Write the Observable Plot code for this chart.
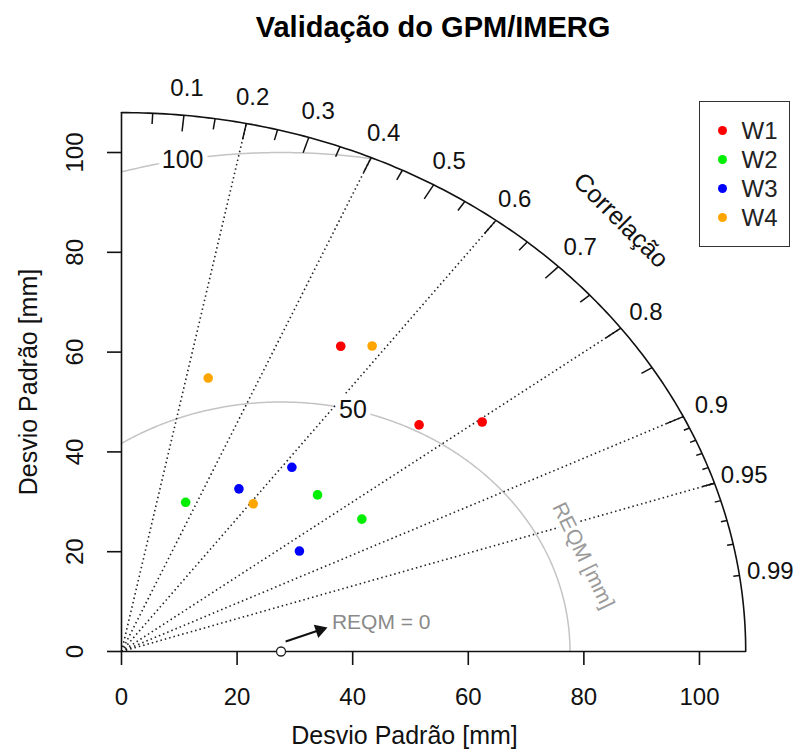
<!DOCTYPE html>
<html><head><meta charset="utf-8">
<script src="https://cdn.jsdelivr.net/npm/d3@7"></script>
<script src="https://cdn.jsdelivr.net/npm/@observablehq/plot@0.6"></script>
<style>
body{margin:0;background:#fff;font-family:"Liberation Sans",Arial,sans-serif;overflow:hidden}
#wrap{position:relative;width:799px;height:751px;background:#fff}
#title{position:absolute;left:133px;top:12.5px;width:600px;font-weight:bold;font-size:29px;line-height:29px;text-align:center;white-space:nowrap;color:#000}
#chart{position:absolute;left:0;top:55px}
#legend{position:absolute;left:699px;top:101px;width:91px;height:146px;border:1.5px solid #333;box-sizing:border-box;background:#fff}
.item{position:absolute;left:0;height:28px;display:flex;align-items:center;font-size:24px;color:#222}
.item .dot{width:9px;height:9px;border-radius:50%;margin-left:18px;margin-right:14.5px}
</style></head>
<body>
<div id="wrap">
  <div id="title">Validação do GPM/IMERG</div>
  <div id="chart"></div>
  <div id="legend"></div>
</div>
<script>
// ---------------- data ----------------
const series = ["W1", "W2", "W3", "W4"];
const seriesColors = ["#ff0000", "#00ee00", "#0000ff", "#ffa500"];
// standard deviation [mm] and correlation of each point, per series
const w1Sd  = [71.98, 68.65, 77.52];
const w1Cor = [0.527, 0.750, 0.805];
const w2Sd  = [31.89, 46.21, 49.33];
const w2Cor = [0.348, 0.734, 0.843];
const w3Sd  = [47.24, 38.41, 36.78];
const w3Cor = [0.624, 0.529, 0.837];
const w4Sd  = [75.03, 56.82, 37.36];
const w4Cor = [0.578, 0.264, 0.610];
const refSd = 27.6;              // observed standard deviation
const maxSd = 108;               // outer radius
const gammaLevels = [50, 100];   // REQM contours
const corrLines = [0.2, 0.4, 0.6, 0.8, 0.9, 0.95];
const corrLabels = [0.1, 0.2, 0.3, 0.4, 0.5, 0.6, 0.7, 0.8, 0.9, 0.95, 0.99];
const xTicks = [0, 20, 40, 60, 80, 100];
const yTicks = [0, 20, 40, 60, 80, 100];
const axisTitle = "Desvio Padrão [mm]";
const corrTitle = "Correlação";
const gammaTitle = "REQM [mm]";
const zeroLabel = "REQM = 0";

// ---------------- derived tables ----------------
const sdArr = [w1Sd, w2Sd, w3Sd, w4Sd];
const corArr = [w1Cor, w2Cor, w3Cor, w4Cor];
const pts = series.flatMap((s, i) => sdArr[i].map((sd, j) => {
  const c = corArr[i][j];
  return {s, x: sd * c, y: sd * Math.sqrt(1 - c * c)};
}));

const rad = Math.PI / 180;
const gammaArcs = gammaLevels.flatMap(g =>
  d3.range(0, 180.001, 0.25).map(a => ({g, x: refSd + g * Math.cos(a * rad), y: g * Math.sin(a * rad)}))
    .filter(p => p.x >= 0 && p.x * p.x + p.y * p.y <= maxSd * maxSd)
);
const gammaLabelAngles = [75.6, 99.8];
const gammaLab = gammaLevels.map((g, i) => ({g, a: gammaLabelAngles[i]}));

const outerArc = d3.range(0, 90.001, 0.5).map(a => ({x: maxSd * Math.cos(a * rad), y: maxSd * Math.sin(a * rad)}));
const bigT = d3.range(1, 10).map(i => i / 10);
const medT = d3.range(0, 10).map(i => 0.05 + i / 10);
const smlT = d3.range(91, 100).map(i => i / 100);
const arcTicks = [
  ...bigT.map(c => ({c, f: 0.97})),
  ...medT.map(c => ({c, f: 0.98})),
  ...smlT.map(c => ({c, f: 0.99}))
];
const sinOf = c => Math.sqrt(1 - c * c);

// annotation anchors (data units)
const arrowTail = {x: refSd + 0.8, y: 2.0};
const arrowHead = {x: 35.6, y: 4.8};
const zeroLabelAt = {x: 36.4, y: 5.9};
const gammaTitleAt = {x: 79.9, y: 19.2};

// layout
const W = 799, H = 696;
const mL = 121, mR = 53.8, mT = 57.1, mB = 100;
const kx = (W - mL - mR) / maxSd, ky = (H - mT - mB) / maxSd;
const dirAngle = Math.atan2((arrowHead.y - arrowTail.y) * ky, (arrowHead.x - arrowTail.x) * kx); // screen, up positive
const triBack = 7.8; // px from tip to centroid
const triC = {x: arrowHead.x - triBack * Math.cos(dirAngle) / kx, y: arrowHead.y - triBack * Math.sin(dirAngle) / ky};

const FONT = '"Liberation Sans", Arial, sans-serif';

const chart = Plot.plot({
  width: W, height: H,
  marginLeft: mL, marginRight: mR, marginTop: mT, marginBottom: mB,
  x: {domain: [0, maxSd], label: null},
  y: {domain: [0, maxSd], label: null},
  color: {domain: series, range: seriesColors},
  style: {fontFamily: FONT, fontSize: "24px", background: "white", overflow: "visible", color: "#111"},
  marks: [
    // REQM contours
    Plot.line(gammaArcs, {x: "x", y: "y", z: "g", stroke: "#c4c4c4", strokeWidth: 1.5}),
    // correlation radial lines
    Plot.link(corrLines, {x1: () => 0, y1: () => 0, x2: c => maxSd * c, y2: c => maxSd * sinOf(c),
      stroke: "#222", strokeWidth: 1.6, strokeDasharray: "1.5,3"}),
    // REQM contour labels (boxed)
    Plot.text(gammaLab, {x: d => refSd + d.g * Math.cos(d.a * rad), y: d => d.g * Math.sin(d.a * rad),
      text: d => String(d.g), fontSize: 25, fill: "#111", stroke: "white", strokeWidth: 10, paintOrder: "stroke"}),
    Plot.text([gammaTitle], {x: () => gammaTitleAt.x, y: () => gammaTitleAt.y, text: d => d, rotate: 64,
      fontSize: 21, fill: "#9a9a9a", stroke: "white", strokeWidth: 6, paintOrder: "stroke"}),
    // outer arc and axes lines
    Plot.line(outerArc, {x: "x", y: "y", stroke: "#111", strokeWidth: 1.6}),
    Plot.ruleX([0], {y1: 0, y2: maxSd, stroke: "#111", strokeWidth: 1.6}),
    Plot.ruleY([0], {x1: 0, x2: maxSd, stroke: "#111", strokeWidth: 1.6}),
    // arc ticks
    Plot.link(arcTicks, {x1: d => maxSd * d.c, y1: d => maxSd * sinOf(d.c), x2: d => d.f * maxSd * d.c, y2: d => d.f * maxSd * sinOf(d.c),
      stroke: "#111", strokeWidth: 1.5}),
    // axis ticks
    Plot.axisX(xTicks, {tickSize: 14, tickFormat: () => "", label: null, strokeWidth: 1.6}),
    Plot.axisY(yTicks, {tickSize: 14, tickFormat: () => "", label: null, strokeWidth: 1.6}),
    // tick labels
    Plot.text(xTicks, {x: d => d, frameAnchor: "bottom", dy: 46, text: d => String(d), fontSize: 24, fill: "#111",
      textAnchor: "middle", lineAnchor: "middle"}),
    Plot.text(yTicks, {y: d => d, frameAnchor: "left", dx: -46, rotate: -90, text: d => String(d), fontSize: 24, fill: "#111",
      textAnchor: "middle", lineAnchor: "middle"}),
    // axis titles
    Plot.text([axisTitle], {frameAnchor: "bottom-left", dx: 283, dy: 84, text: d => d, fontSize: 25, fill: "#111",
      textAnchor: "middle", lineAnchor: "middle"}),
    Plot.text([axisTitle], {frameAnchor: "left", dx: -93, rotate: -90, text: d => d, fontSize: 25, fill: "#111",
      textAnchor: "middle", lineAnchor: "middle"}),
    // correlation labels
    Plot.text(corrLabels, {x: c => 1.05 * maxSd * c, y: c => 1.05 * maxSd * sinOf(c), text: c => String(c), fontSize: 24, fill: "#111"}),
    Plot.text([corrTitle], {x: () => 0.8 * maxSd, y: () => 0.8 * maxSd, text: d => d, rotate: 45, fontSize: 25, fill: "#111"}),
    // reference point + annotation
    Plot.dot([refSd], {x: d => d, y: () => 0, r: 4.5, stroke: "#222", fill: "white", strokeWidth: 1.3}),
    Plot.link([0], {x1: () => arrowTail.x, y1: () => arrowTail.y, x2: () => triC.x, y2: () => triC.y, stroke: "#111", strokeWidth: 2}),
    Plot.dot([0], {x: () => triC.x, y: () => triC.y, symbol: "triangle", r: 5.2, fill: "#111", stroke: "none",
      rotate: 90 - dirAngle / rad}),
    Plot.text([zeroLabel], {x: () => zeroLabelAt.x, y: () => zeroLabelAt.y, text: d => d, textAnchor: "start", fontSize: 21, fill: "#8a8a8a"}),
    // data points
    Plot.dot(pts, {x: "x", y: "y", fill: "s", r: 4.8, stroke: "none"})
  ]
});
document.getElementById("chart").appendChild(chart);

// legend
const leg = document.getElementById("legend");
series.forEach((s, i) => {
  const it = document.createElement("div");
  it.className = "item";
  it.style.top = (28.5 + 29.1 * i - 14) + "px";
  const dot = document.createElement("span");
  dot.className = "dot";
  dot.style.background = seriesColors[i];
  const tx = document.createElement("span");
  tx.textContent = s;
  it.appendChild(dot); it.appendChild(tx);
  leg.appendChild(it);
});
</script>
</body></html>
